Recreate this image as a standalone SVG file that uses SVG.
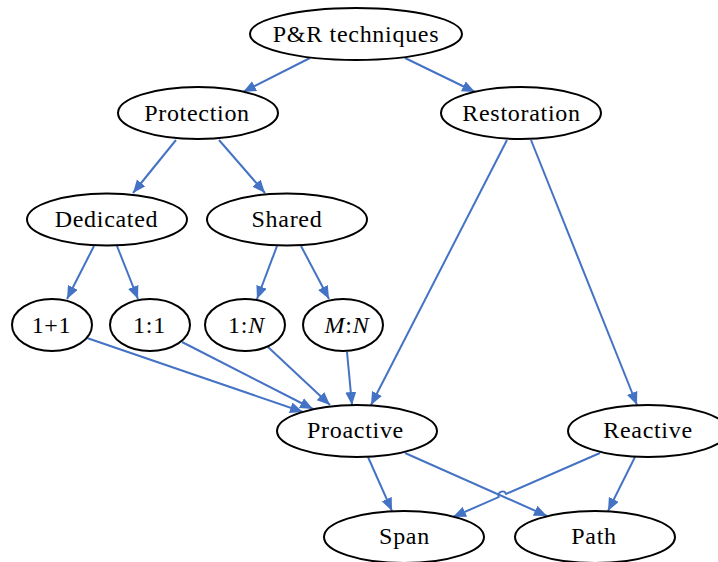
<svg xmlns="http://www.w3.org/2000/svg" width="718" height="562" viewBox="0 0 718 562">
  <defs>
    <marker id="arrow" markerUnits="userSpaceOnUse" markerWidth="14" markerHeight="12" refX="13" refY="5.5" orient="auto">
      <path d="M0,0 L13,5.5 L0,11 Z" fill="#4472C4"/>
    </marker>
    <style>
      .node ellipse { fill: #ffffff; stroke: #000000; stroke-width: 2; }
      .node text { font-family: "Liberation Serif", "Times New Roman", serif; font-size: 24px; letter-spacing: 0.7px; fill: #000000; text-anchor: middle; }
      .it { font-style: italic; }
      #edges path, #edges line { stroke: #4472C4; stroke-width: 2; fill: none; marker-end: url(#arrow); }
    </style>
  </defs>
  <rect width="718" height="562" fill="#ffffff"/>

  <!-- connectors -->
  <g id="edges">
    <line x1="310" y1="58" x2="243" y2="92"/>
    <line x1="405" y1="58" x2="475" y2="92"/>
    <line x1="176" y1="140" x2="133" y2="193"/>
    <line x1="219" y1="140" x2="265" y2="193"/>
    <line x1="507" y1="140" x2="371" y2="405"/>
    <line x1="531" y1="140" x2="637" y2="405"/>
    <line x1="94" y1="246" x2="67" y2="299"/>
    <line x1="117" y1="246" x2="138" y2="299"/>
    <line x1="277" y1="246" x2="257" y2="299"/>
    <line x1="301" y1="246" x2="329" y2="299"/>
    <line x1="87" y1="338" x2="303" y2="412"/>
    <line x1="182" y1="342" x2="313" y2="409"/>
    <line x1="268" y1="347" x2="330" y2="405"/>
    <line x1="347" y1="352" x2="352" y2="405"/>
    <line x1="368" y1="457" x2="392" y2="511"/>
    <line x1="405" y1="453" x2="547" y2="516"/>
    <path d="M600,453 L506.1,493.9 A4,4 0 0 0 498.7,497.1 L453,517"/>
    <line x1="635" y1="457" x2="608" y2="511"/>
  </g>

  <!-- nodes -->
  <g id="pr-techniques" class="node">
    <ellipse cx="356" cy="34" rx="106" ry="26"/>
    <text x="356" y="42">P&amp;R techniques</text>
  </g>
  <g id="protection" class="node">
    <ellipse cx="198" cy="113" rx="80" ry="26"/>
    <text x="197" y="121">Protection</text>
  </g>
  <g id="restoration" class="node">
    <ellipse cx="521" cy="113" rx="80" ry="26"/>
    <text x="521.5" y="121">Restoration</text>
  </g>
  <g id="dedicated" class="node">
    <ellipse cx="107" cy="219.5" rx="80" ry="26"/>
    <text x="106.5" y="227">Dedicated</text>
  </g>
  <g id="shared" class="node">
    <ellipse cx="287" cy="219.5" rx="80" ry="26"/>
    <text x="287" y="227">Shared</text>
  </g>
  <g id="one-plus-one" class="node">
    <ellipse cx="52" cy="325" rx="40" ry="26"/>
    <text x="51.5" y="333">1+1</text>
  </g>
  <g id="one-to-one" class="node">
    <ellipse cx="150" cy="325" rx="40" ry="26"/>
    <text x="149.5" y="333">1:1</text>
  </g>
  <g id="one-to-n" class="node">
    <ellipse cx="245" cy="325" rx="40" ry="26"/>
    <text x="246.5" y="333">1:<tspan class="it">N</tspan></text>
  </g>
  <g id="m-to-n" class="node">
    <ellipse cx="343" cy="325" rx="40" ry="26"/>
    <text x="347" y="333"><tspan class="it">M</tspan>:<tspan class="it">N</tspan></text>
  </g>
  <g id="proactive" class="node">
    <ellipse cx="357" cy="431" rx="80" ry="26"/>
    <text x="355.5" y="438">Proactive</text>
  </g>
  <g id="reactive" class="node">
    <ellipse cx="648" cy="431" rx="80" ry="26"/>
    <text x="648" y="438">Reactive</text>
  </g>
  <g id="span" class="node">
    <ellipse cx="404" cy="537" rx="80" ry="26"/>
    <text x="404.5" y="544">Span</text>
  </g>
  <g id="path" class="node">
    <ellipse cx="595" cy="537" rx="80" ry="26"/>
    <text x="594" y="544">Path</text>
  </g>
</svg>
